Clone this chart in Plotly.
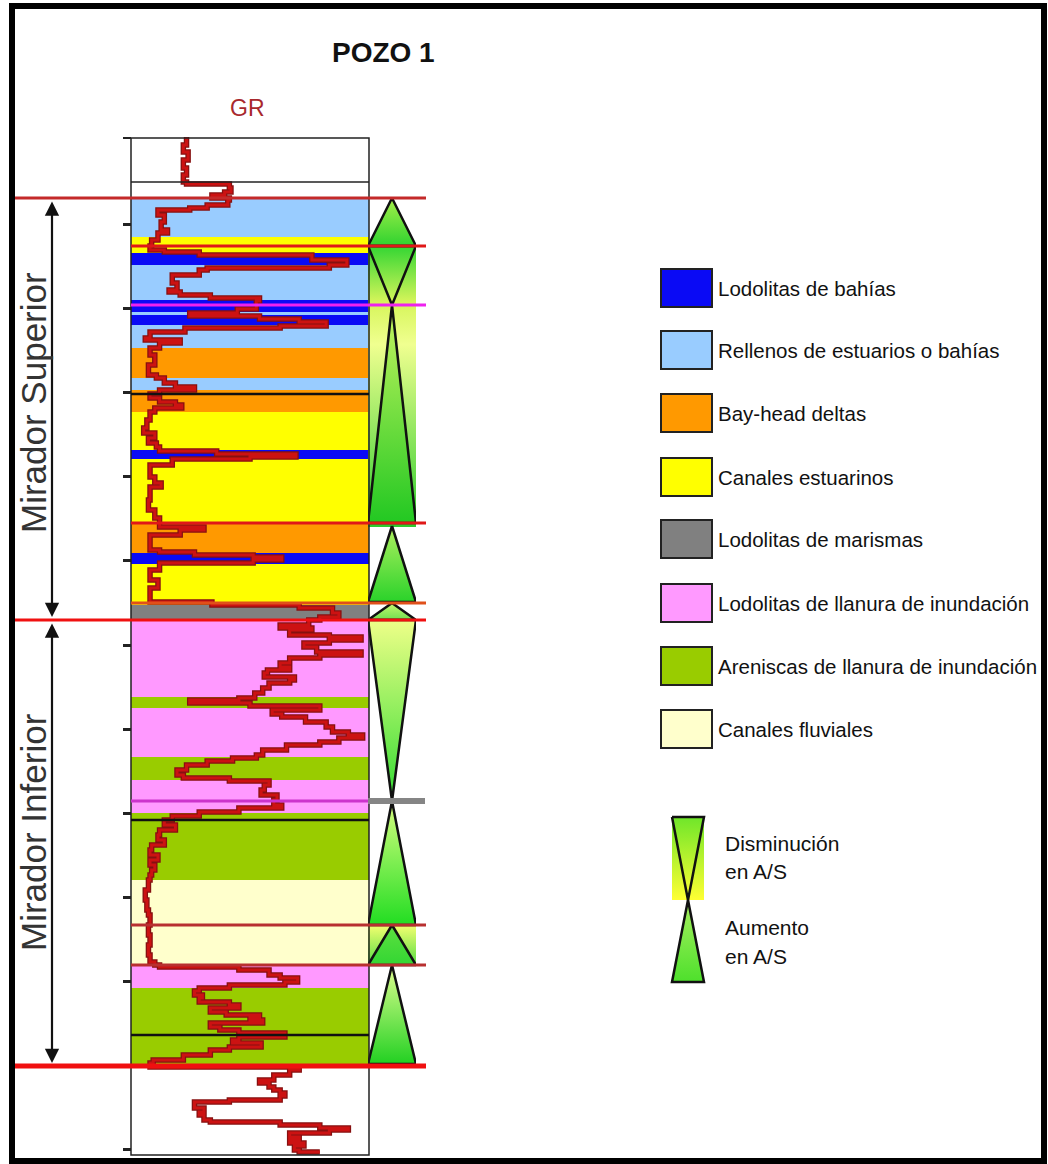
import plotly.graph_objects as go

# ---------------------------------------------------------------
# Gamma-ray log (depth in chart units, GR in API)
# ---------------------------------------------------------------
gr_depth = [137, 145, 152, 160, 168, 175, 182, 184, 188, 192, 195, 198, 200, 205, 208, 210,
            215, 222, 230, 233, 240, 246, 250, 252, 255, 260, 265, 268, 270, 275, 283, 290,
            292, 295, 298, 301, 305, 309, 313, 316, 319, 322, 326, 328, 332, 338, 340, 343,
            348, 355, 365, 375, 378, 383, 387, 390, 394, 398, 402, 405, 408, 412, 420, 428,
            433, 438, 443, 447, 451, 454, 457, 459, 465, 470, 477, 483, 487, 500, 510, 518,
            523, 527, 530, 535, 545, 550, 552, 555, 557, 560, 563, 570, 580, 588, 595, 600,
            602, 605, 608, 613, 617, 620, 625, 628, 630, 635, 637, 640, 643, 647, 652, 655,
            658, 663, 667, 670, 673, 677, 680, 683, 688, 693, 698, 700, 703, 706, 710, 714,
            717, 722, 727, 732, 735, 738, 742, 745, 750, 755, 758, 761, 765, 770, 775, 778,
            781, 785, 790, 795, 800, 805, 808, 812, 816, 820, 825, 830, 835, 840, 845, 850,
            855, 860, 865, 870, 875, 880, 890, 900, 910, 915, 925, 935, 945, 955, 962, 965,
            967, 970, 975, 978, 982, 985, 988, 991, 995, 998, 1002, 1005, 1008, 1012, 1015, 1018,
            1020, 1023, 1027, 1030, 1033, 1037, 1040, 1043, 1047, 1050, 1055, 1060, 1063, 1067, 1070, 1075,
            1080, 1083, 1087, 1090, 1093, 1096, 1100, 1102, 1105, 1108, 1112, 1115, 1120, 1122, 1125, 1128,
            1130, 1133, 1137, 1140, 1143, 1146, 1150, 1152]
gr_api = [35, 33, 36, 33, 35, 33, 35, 62, 63, 59, 51, 62, 61, 48, 37, 17,
          21, 19, 23, 17, 13, 12, 21, 43, 114, 136, 125, 48, 43, 26, 29, 24,
          31, 50, 81, 79, 79, 67, 37, 81, 106, 123, 94, 34, 12, 9, 31, 18,
          12, 15, 11, 16, 21, 28, 40, 18, 12, 18, 28, 32, 15, 12, 10, 8,
          15, 11, 16, 18, 54, 104, 75, 26, 12, 12, 15, 19, 12, 11, 15, 18,
          18, 46, 31, 12, 12, 18, 40, 77, 95, 77, 18, 12, 17, 12, 12, 12,
          51, 106, 127, 131, 119, 112, 94, 114, 100, 125, 145, 125, 109, 117, 145, 119,
          100, 94, 100, 86, 84, 103, 100, 87, 83, 78, 68, 37, 75, 119, 89, 95,
          110, 123, 127, 137, 146, 131, 119, 98, 83, 79, 64, 48, 35, 29, 33, 62,
          87, 84, 82, 92, 90, 95, 68, 43, 26, 21, 28, 18, 17, 21, 13, 12,
          17, 12, 15, 13, 12, 11, 9, 10, 11, 12, 11, 12, 11, 12, 15, 18,
          68, 87, 94, 105, 97, 62, 43, 40, 45, 43, 62, 68, 50, 60, 81, 75,
          83, 50, 56, 68, 97, 68, 64, 82, 62, 50, 33, 14, 12, 106, 100, 90,
          81, 87, 90, 94, 97, 94, 62, 40, 40, 46, 43, 46, 50, 94, 119, 137,
          125, 100, 106, 100, 109, 103, 106, 119]
gr_range = [0, 150]

# ---------------------------------------------------------------
# Lithofacies
# ---------------------------------------------------------------
facies_names = ["Lodolitas de bahías", "Rellenos de estuarios o bahías", "Bay-head deltas",
                "Canales estuarinos", "Lodolitas de marismas",
                "Lodolitas de llanura de inundación", "Areniscas de llanura de inundación",
                "Canales fluviales"]
facies_colors = ["#0a0af5", "#99ccff", "#ff9900", "#ffff00", "#808080",
                 "#ff99ff", "#99cc00", "#ffffcc"]

bed_top = [199, 237, 253, 265, 300, 312, 315, 325, 348, 378, 390, 412, 450, 459, 523, 553,
           564, 605, 620, 697, 708, 757, 780, 813, 880, 965, 988]
bed_base = [237, 253, 265, 300, 312, 315, 325, 348, 378, 390, 412, 450, 459, 523, 553, 564,
            605, 620, 697, 708, 757, 780, 813, 880, 965, 988, 1064]
bed_facies = [1, 3, 0, 1, 0, 1, 0, 1, 2, 1, 2, 3, 0, 3, 2, 0,
              3, 4, 5, 6, 5, 6, 5, 6, 7, 5, 6]

# Stratigraphic surfaces
seq_depth = [198, 246, 523, 603, 620, 925, 965, 1066]
seq_color = ["#c42a2a", "#e01818", "#e01818", "#e0501a", "#f01010", "#b83030", "#b83030", "#f01010"]
seq_long = [True, False, False, False, True, False, False, True]
mfs_depth = [305, 801]
bed_line_depth = [394, 820, 1035]

# Accommodation / supply (A/S) trends
as_top = [198, 246, 305, 526, 603, 620, 801, 925, 965]
as_base = [246, 305, 523, 602, 620, 801, 925, 965, 1064]
as_trend = ["up", "down", "up", "up", "up", "down", "up", "up", "up"]
as_fill_top = ["#a6f04a", None, "#c8f560", "#b0f060", "#c8f870", "#eeff88", "#d8ff80", "#5ee040", "#e0ff90"]
as_fill_base = ["#2fd22f", None, "#22c822", "#2ad22a", "#6ee050", "#33dd33", "#22dd22", "#33d633", "#22d022"]

# Stratigraphic units
unit_names = ["Mirador Superior", "Mirador Inferior"]
unit_top = [198, 620]
unit_base = [620, 1066]

depth_ticks = [224, 308, 392, 476, 560, 645, 729, 813, 897, 981, 1065, 1149]

W, H = 1048, 1164
TRACK_L, TRACK_R = 131, 369
COL_L, COL_R = 368, 416
SANS = "Liberation Sans, Arial, sans-serif"

fig = go.Figure()
shapes = []
annotations = []

# Lithofacies beds in the log track
for t, b, f in zip(bed_top, bed_base, bed_facies):
    shapes.append(dict(type="rect", xref="x2 domain", yref="y", x0=0, x1=1, y0=t, y1=b,
                       fillcolor=facies_colors[f], line=dict(width=0), layer="below"))

# GR curve (stepped, as digitised): dark rim plus red core
fig.add_trace(go.Scatter(x=gr_api, y=gr_depth, xaxis="x2", yaxis="y", mode="lines",
                         line=dict(color="#861010", width=5.5, shape="vh"), hoverinfo="skip"))
fig.add_trace(go.Scatter(x=gr_api, y=gr_depth, xaxis="x2", yaxis="y", mode="lines",
                         line=dict(color="#cc1212", width=3, shape="vh"), hoverinfo="skip"))

# A/S column: gradient backgrounds behind some cycles
bg_spans = [(246, 527, [[0, "#33d633"], [0.2, "#d6f55a"], [0.35, "#f0ff90"], [1, "#2ccc2c"]]),
            (925, 965, [[0, "#f4ff70"], [1, "#55dd44"]])]
for t, b, cs in bg_spans:
    fig.add_trace(go.Scatter(x=[0, 1.08, 1.08, 0, 0], y=[t, t, b, b, t], xaxis="x3", yaxis="y",
                             mode="lines", line=dict(width=0), fill="toself",
                             fillgradient=dict(type="vertical", colorscale=cs, start=t, stop=b),
                             hoverinfo="skip"))

for t, b, tr, c0, c1 in zip(as_top, as_base, as_trend, as_fill_top, as_fill_base):
    if tr == "up":
        xs, ys = [0.5, 1, 0, 0.5], [t, b, b, t]
    else:
        xs, ys = [0, 1, 0.5, 0], [t, t, b, t]
    kw = {}
    if c0 is not None:
        kw = dict(fill="toself",
                  fillgradient=dict(type="vertical", colorscale=[[0, c0], [1, c1]], start=t, stop=b))
    fig.add_trace(go.Scatter(x=xs, y=ys, xaxis="x3", yaxis="y", mode="lines",
                             line=dict(color="#111", width=2.5), hoverinfo="skip", **kw))

# Track frame and header line
shapes.append(dict(type="rect", xref="x2 domain", yref="y", x0=0, x1=1, y0=138, y1=1155,
                   line=dict(color="#222", width=1.5), layer="above"))
shapes.append(dict(type="line", xref="x2 domain", yref="y", x0=0, x1=1, y0=182, y1=182,
                   line=dict(color="#222", width=1.5), layer="above"))
shapes.append(dict(type="line", xref="x", yref="y", x0=123, x1=TRACK_L, y0=138, y1=138,
                   line=dict(color="#222", width=2), layer="above"))

# Bed boundaries, flooding surfaces and sequence boundaries
for d in bed_line_depth:
    shapes.append(dict(type="line", xref="x2 domain", yref="y", x0=0, x1=1, y0=d, y1=d,
                       line=dict(color="#111", width=2.5), layer="above"))
shapes.append(dict(type="line", xref="x", yref="y", x0=TRACK_L, x1=426, y0=mfs_depth[0], y1=mfs_depth[0],
                   line=dict(color="#ee22ee", width=3), layer="above"))
shapes.append(dict(type="line", xref="x", yref="y", x0=TRACK_L, x1=COL_L, y0=mfs_depth[1], y1=mfs_depth[1],
                   line=dict(color="#cc33cc", width=3), layer="above"))
shapes.append(dict(type="line", xref="x", yref="y", x0=COL_L, x1=425, y0=mfs_depth[1], y1=mfs_depth[1],
                   line=dict(color="#858585", width=6), layer="above"))
for d, c, lg in zip(seq_depth, seq_color, seq_long):
    shapes.append(dict(type="line", xref="x", yref="y", x0=15 if lg else TRACK_L, x1=426, y0=d, y1=d,
                       line=dict(color=c, width=5 if d == 1066 else 3), layer="above"))

# Unit arrows and names
for name, t, b in zip(unit_names, unit_top, unit_base):
    annotations.append(dict(xref="x", yref="y", axref="x", ayref="y", x=52, y=b - 3, ax=52, ay=t + 2,
                            text="", showarrow=True, arrowhead=2, arrowside="end+start",
                            arrowsize=1.3, arrowwidth=2.2, arrowcolor="#111"))
    annotations.append(dict(xref="x", yref="y", x=33, y=(t + b) / 2 - 6 if t < 600 else (t + b) / 2 - 11,
                            text=name, textangle=-90, showarrow=False,
                            font=dict(family=SANS, size=35, color="#333")))

# Titles
annotations.append(dict(xref="x", yref="y", x=383, y=52, text="<b>POZO 1</b>", showarrow=False,
                        font=dict(family=SANS, size=28, color="#111")))
annotations.append(dict(xref="x", yref="y", x=247, y=108, text="GR", showarrow=False,
                        font=dict(family=SANS, size=23, color="#a8282d")))

# Facies key
key_y = [288, 350, 413, 477, 539, 603, 666, 729]
for name, color, cy in zip(facies_names, facies_colors, key_y):
    shapes.append(dict(type="rect", xref="x", yref="y", x0=661, x1=712, y0=cy - 19, y1=cy + 19,
                       fillcolor=color, line=dict(color="#222", width=2), layer="above"))
    annotations.append(dict(xref="x", yref="y", x=716, y=cy, text=name, xanchor="left",
                            showarrow=False, font=dict(family=SANS, size=20.5, color="#111")))

# A/S key symbols
fig.add_trace(go.Scatter(x=[672, 704, 704, 672, 672], y=[817, 817, 900, 900, 817], xaxis="x", yaxis="y",
                         mode="lines", line=dict(width=0), fill="toself",
                         fillgradient=dict(type="vertical", colorscale=[[0, "#6fe62a"], [1, "#ffff33"]],
                                           start=817, stop=900), hoverinfo="skip"))
fig.add_trace(go.Scatter(x=[672, 704, 688, 672], y=[817, 817, 900, 817], xaxis="x", yaxis="y",
                         mode="lines", line=dict(color="#111", width=2.5), hoverinfo="skip"))
fig.add_trace(go.Scatter(x=[688, 704, 672, 688], y=[900, 982, 982, 900], xaxis="x", yaxis="y",
                         mode="lines", line=dict(color="#111", width=2.5), fill="toself",
                         fillgradient=dict(type="vertical", colorscale=[[0, "#a8f060"], [1, "#4ee02c"]],
                                           start=900, stop=982), hoverinfo="skip"))
for txt, cy in [("Disminución", 843), ("en A/S", 871), ("Aumento", 927), ("en A/S", 956)]:
    annotations.append(dict(xref="x", yref="y", x=723, y=cy, text=txt, xanchor="left",
                            showarrow=False, font=dict(family=SANS, size=21, color="#111")))

# Outer frame
shapes.append(dict(type="rect", xref="x", yref="y", x0=12, x1=1044, y0=6, y1=1161,
                   line=dict(color="#000", width=6), layer="above"))

fig.update_layout(
    width=W, height=H, margin=dict(l=0, r=0, t=0, b=0),
    paper_bgcolor="white", plot_bgcolor="rgba(0,0,0,0)", showlegend=False,
    xaxis=dict(domain=[0, 1], range=[0, W], visible=False, anchor="y"),
    xaxis2=dict(domain=[TRACK_L / W, TRACK_R / W], range=gr_range, visible=False, anchor="y"),
    xaxis3=dict(domain=[COL_L / W, COL_R / W], range=[0, 1], visible=False, anchor="y"),
    yaxis=dict(domain=[0, 1], range=[H, 0], anchor="free", position=TRACK_L / W,
               tickvals=depth_ticks, ticks="outside", ticklen=8, tickwidth=2.5, tickcolor="#222",
               showticklabels=False, showgrid=False, zeroline=False, showline=False),
    shapes=shapes, annotations=annotations,
)

fig.write_html("out.html")
